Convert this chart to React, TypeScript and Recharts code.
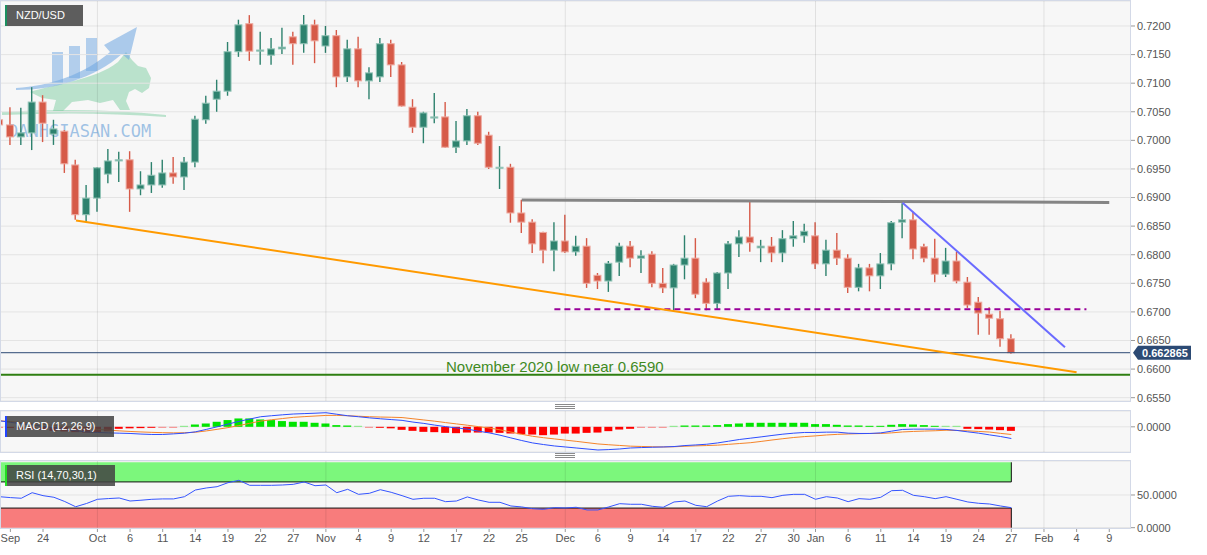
import React from 'react';
import { ComposedChart, Bar, Line, XAxis, YAxis, CartesianGrid, ReferenceLine, ReferenceArea, Cell } from 'recharts';

// daily NZD/USD candles, 20 Sep 2021 .. 27 Jan 2022 (index = trading day)
const openP = [
  0.7036, 0.7027, 0.7006, 0.7013, 0.7067, 0.7011, 0.7016, 0.6957, 0.6870, 0.6899,
  0.6941, 0.6964, 0.6966, 0.6915, 0.6922, 0.6922, 0.6943, 0.6936, 0.6962, 0.7036,
  0.7072, 0.7086, 0.7155, 0.7204, 0.7156, 0.7149, 0.7160, 0.7181, 0.7169, 0.7202,
  0.7165, 0.7183, 0.7111, 0.7160, 0.7104, 0.7111, 0.7169, 0.7132, 0.7058, 0.7023,
  0.7039, 0.7041, 0.6988, 0.6999, 0.7043, 0.7009, 0.6952, 0.6953, 0.6873, 0.6857,
  0.6839, 0.6808, 0.6824, 0.6805, 0.6815, 0.6764, 0.6754, 0.6787, 0.6815, 0.6794,
  0.6801, 0.6750, 0.6742, 0.6782, 0.6794, 0.6752, 0.6715, 0.6768, 0.6819, 0.6831,
  0.6812, 0.6815, 0.6803, 0.6828, 0.6833, 0.6833, 0.6784, 0.6808, 0.6794, 0.6743,
  0.6777, 0.6763, 0.6784, 0.6857, 0.6861, 0.6814, 0.6794, 0.6766, 0.6789, 0.6752,
  0.6717, 0.6696, 0.6688, 0.6653,
];
const highP = [
  0.7048, 0.7058, 0.7057, 0.7093, 0.7079, 0.7036, 0.7018, 0.6966, 0.6922, 0.6953,
  0.6985, 0.6980, 0.6981, 0.6946, 0.6962, 0.6966, 0.6971, 0.6971, 0.7043, 0.7078,
  0.7106, 0.7172, 0.7211, 0.7219, 0.7190, 0.7179, 0.7197, 0.7190, 0.7219, 0.7211,
  0.7200, 0.7193, 0.7176, 0.7181, 0.7128, 0.7179, 0.7176, 0.7137, 0.7072, 0.7050,
  0.7083, 0.7067, 0.7034, 0.7055, 0.7050, 0.7015, 0.6990, 0.6959, 0.6896, 0.6862,
  0.6840, 0.6857, 0.6870, 0.6833, 0.6829, 0.6768, 0.6789, 0.6821, 0.6824, 0.6808,
  0.6806, 0.6777, 0.6784, 0.6834, 0.6829, 0.6759, 0.6770, 0.6824, 0.6843, 0.6892,
  0.6826, 0.6831, 0.6843, 0.6859, 0.6854, 0.6857, 0.6826, 0.6838, 0.6801, 0.6784,
  0.6784, 0.6803, 0.6859, 0.6890, 0.6875, 0.6819, 0.6828, 0.6812, 0.6805, 0.6761,
  0.6726, 0.6708, 0.6702, 0.6661,
];
const lowP = [
  0.7006, 0.6992, 0.6992, 0.6983, 0.6997, 0.6992, 0.6943, 0.6861, 0.6857, 0.6875,
  0.6925, 0.6927, 0.6875, 0.6904, 0.6908, 0.6917, 0.6924, 0.6913, 0.6953, 0.7029,
  0.7050, 0.7078, 0.7146, 0.7139, 0.7132, 0.7132, 0.7151, 0.7132, 0.7153, 0.7135,
  0.7153, 0.7093, 0.7102, 0.7093, 0.7072, 0.7102, 0.7111, 0.7059, 0.7013, 0.6995,
  0.7030, 0.6987, 0.6978, 0.6992, 0.6992, 0.6950, 0.6915, 0.6856, 0.6838, 0.6803,
  0.6785, 0.6771, 0.6803, 0.6798, 0.6742, 0.6740, 0.6735, 0.6763, 0.6778, 0.6768,
  0.6743, 0.6733, 0.6702, 0.6757, 0.6724, 0.6703, 0.6705, 0.6740, 0.6796, 0.6805,
  0.6787, 0.6787, 0.6787, 0.6814, 0.6821, 0.6775, 0.6763, 0.6782, 0.6733, 0.6736,
  0.6736, 0.6740, 0.6773, 0.6829, 0.6792, 0.6787, 0.6752, 0.6761, 0.6750, 0.6707,
  0.6660, 0.6660, 0.6639, 0.6627,
];
const closeP = [
  0.7027, 0.7006, 0.7013, 0.7067, 0.7030, 0.7020, 0.6959, 0.6870, 0.6899, 0.6952,
  0.6964, 0.6966, 0.6915, 0.6922, 0.6939, 0.6943, 0.6936, 0.6962, 0.7037, 0.7065,
  0.7086, 0.7155, 0.7202, 0.7156, 0.7158, 0.7160, 0.7163, 0.7169, 0.7202, 0.7174,
  0.7183, 0.7111, 0.7160, 0.7104, 0.7118, 0.7169, 0.7132, 0.7060, 0.7023, 0.7048,
  0.7041, 0.6988, 0.6999, 0.7043, 0.6995, 0.6953, 0.6953, 0.6873, 0.6857, 0.6819,
  0.6808, 0.6824, 0.6805, 0.6815, 0.6750, 0.6754, 0.6785, 0.6815, 0.6794, 0.6798,
  0.6750, 0.6742, 0.6782, 0.6794, 0.6731, 0.6715, 0.6768, 0.6819, 0.6831, 0.6821,
  0.6815, 0.6803, 0.6828, 0.6833, 0.6841, 0.6784, 0.6808, 0.6794, 0.6743, 0.6777,
  0.6763, 0.6784, 0.6856, 0.6861, 0.6810, 0.6794, 0.6766, 0.6789, 0.6754, 0.6712,
  0.6698, 0.6689, 0.6653, 0.662865,
];

const macdLine = [
  0.0012, 0.0009, 0.0006, 0.0004, 0.0001, -0.0002, -0.0005, -0.0008, -0.001, -0.00112,
  -0.0012, -0.00126, -0.00132, -0.00144, -0.00152, -0.00152, -0.0014, -0.00126, -0.001, -0.00052,
  0, 0.00054, 0.00108, 0.00154, 0.002, 0.0022, 0.00238, 0.00254, 0.00262, 0.0027,
  0.0028, 0.0025, 0.0022, 0.002, 0.00178, 0.0016, 0.00144, 0.00128, 0.00094, 0.00068,
  0.00034, 0.00004, -0.00022, -0.00046, -0.00086, -0.0012, -0.00166, -0.0022, -0.00272, -0.0032,
  -0.00352, -0.0038, -0.004, -0.0042, -0.0044, -0.0046, -0.00452, -0.0044, -0.0042, -0.00412,
  -0.00406, -0.004, -0.00392, -0.00372, -0.0036, -0.00346, -0.0032, -0.00286, -0.00252, -0.00226,
  -0.002, -0.00172, -0.00146, -0.00126, -0.00112, -0.00112, -0.00106, -0.00106, -0.00126, -0.00132,
  -0.00132, -0.0012, -0.00086, -0.00052, -0.00046, -0.00046, -0.00046, -0.00052, -0.00072, -0.001,
  -0.00126, -0.0016, -0.00192, -0.00232,
];
const signalLine = [
  0.0012, 0.00104, 0.00086, 0.00068, 0.00048, 0.00028, 0.00008, -0.00012, -0.00032, -0.0005,
  -0.00066, -0.0008, -0.00092, -0.00102, -0.0011, -0.00116, -0.0012, -0.00118, -0.00108, -0.00082,
  -0.0005, -0.00016, 0.00024, 0.0007, 0.00114, 0.0014, 0.00164, 0.00188, 0.00202, 0.00214,
  0.00226, 0.00228, 0.0022, 0.0021, 0.002, 0.00194, 0.0019, 0.00184, 0.0016, 0.00136,
  0.00112, 0.00084, 0.00058, 0.00032, 0.00004, -0.00022, -0.0006, -0.00104, -0.00148, -0.00188,
  -0.00216, -0.0024, -0.00264, -0.00288, -0.00314, -0.0034, -0.00356, -0.0037, -0.00384, -0.0039,
  -0.00396, -0.004, -0.00396, -0.00386, -0.00378, -0.00372, -0.00364, -0.00348, -0.00332, -0.00316,
  -0.0029, -0.00262, -0.00236, -0.00212, -0.00194, -0.0018, -0.00162, -0.0015, -0.00142, -0.00136,
  -0.00132, -0.00132, -0.0012, -0.00102, -0.00092, -0.00084, -0.00078, -0.00068, -0.00072, -0.0008,
  -0.00092, -0.00104, -0.0013, -0.00152,
];
const macdHist = [
  -0.0001, -0.00024, -0.0004, -0.00052, -0.00064, -0.0008, -0.00092, -0.00106, -0.00114, -0.00106,
  -0.0009, -0.0004, -0.0003, -0.00026, -0.0002, -0.00014, -0.00006, 0.00006, 0.00046, 0.00066,
  0.001, 0.00134, 0.00166, 0.00166, 0.00146, 0.00134, 0.00114, 0.001, 0.001, 0.0008,
  0.00066, 0.00034, 0.00026, 0.0001, -0.0001, -0.0002, -0.0003, -0.0006, -0.0008, -0.001,
  -0.00106, -0.0012, -0.00126, -0.00114, -0.00114, -0.00114, -0.0012, -0.00134, -0.00146, -0.00154,
  -0.00166, -0.00154, -0.00134, -0.00134, -0.0012, -0.00114, -0.00086, -0.00054, -0.0004, -0.00014,
  -0.00006, -0.00002, 0.00006, 0.00026, 0.00026, 0.00026, 0.00034, 0.00054, 0.00066, 0.0008,
  0.0008, 0.0008, 0.0008, 0.0008, 0.0008, 0.00054, 0.00054, 0.0004, 0.00026, 0.00026,
  0.0002, 0.0002, 0.0004, 0.00054, 0.00046, 0.00034, 0.0002, 0.00014, 0.00002, -0.0004,
  -0.00046, -0.00054, -0.00066, -0.0008,
];
const rsiLine = [
  47.4, 46, 45, 53.5, 49, 46.5, 40, 32, 37, 43.4,
  44.5, 45.4, 40.8, 42, 43.4, 44, 44, 47.4, 57.6, 60.7,
  62.7, 68.8, 72.5, 64.8, 64.8, 64.8, 65.3, 66.3, 69.9, 64.2,
  65.3, 53.5, 58.7, 51, 52.6, 58.1, 54.1, 49, 43.4, 45,
  45, 39.8, 40.8, 47, 42.4, 38.8, 38.8, 33.2, 31.7, 29,
  28.1, 30.6, 30.1, 31.2, 27.1, 27.1, 31.7, 36.7, 35.8, 35.8,
  32.7, 31.2, 39.3, 40.8, 34.2, 32.1, 40.8, 48, 49, 48,
  48, 45.9, 49.5, 51, 51, 43.4, 47.4, 45.4, 39.8, 44.4,
  43.4, 46.5, 56.6, 57.2, 49.5, 47.4, 44.4, 47.4, 43.4, 39.3,
  37.3, 36.2, 33.2, 30.6,
];

const tickIdx = [1, 4, 9, 12, 15, 18, 21, 24, 27, 30, 33, 36, 39, 42, 45, 48, 52, 55, 58, 61, 64, 67, 70, 73, 75, 78, 81, 84, 87, 90, 93, 96, 99, 102];
const tickLabels = ['Sep', '24', 'Oct', '6', '11', '14', '19', '22', '27', 'Nov', '4', '9', '12', '17', '22', '25', 'Dec', '6', '9', '14', '17', '22', '27', '30', 'Jan', '6', '11', '14', '19', '24', '27', 'Feb', '4', '9'];
const monthIdx = [9, 30, 52, 75, 96];
const priceTicks = [0.655, 0.66, 0.665, 0.67, 0.675, 0.68, 0.685, 0.69, 0.695, 0.7, 0.705, 0.71, 0.715, 0.72];
const lastPrice = 0.662865;
const nov2020Low = 0.659;

// trend lines drawn on the chart (index, price)
const resistance = [{ x: 48, y: 0.68955 }, { x: 102, y: 0.68915 }];
const supportLine = [{ x: 7.03, y: 0.686 }, { x: 99, y: 0.65944 }];
const fallingLine = [{ x: 83, y: 0.6891 }, { x: 97.93, y: 0.66383 }];
const decLowLine = [{ x: 51, y: 0.67046 }, { x: 99.9, y: 0.67046 }];

const W = 1207;
const AXIS_W = 77;
const X_DOMAIN: [number, number] = [0.046, 103.906];
const UP = '#2e826e';
const DOWN = '#d65a48';
const GRID = '#e4e4e4';
const MONTH_GRID = 'rgba(0,0,0,0.09)';
const tickText = { fontSize: 11, fill: '#555' };

const rows = openP.map((o, i) => ({
  i,
  open: o,
  high: highP[i],
  low: lowP[i],
  close: closeP[i],
  macd: macdLine[i],
  signal: signalLine[i],
  hist: macdHist[i],
  rsi: rsiLine[i],
}));

function Candle(props: any) {
  const { x, y, width, height, payload } = props;
  if (height == null || !payload) return null;
  const { open, close, high, low } = payload;
  const up = close >= open;
  const cx = x + width / 2;
  const k = height / (high - low);
  const top = y + (high - Math.max(open, close)) * k;
  const bot = y + (high - Math.min(open, close)) * k;
  const col = up ? UP : DOWN;
  return (
    <g>
      <line x1={cx} x2={cx} y1={y} y2={y + height} stroke={col} strokeWidth={1.4} />
      <rect
        x={cx - 3.5}
        y={top}
        width={7}
        height={Math.max(bot - top, 1)}
        fill={col}
        stroke={up ? '#93c4b7' : '#eeaaa0'}
        strokeWidth={1}
      />
    </g>
  );
}

function PriceTag(props: any) {
  const { viewBox } = props;
  if (!viewBox) return null;
  const xr = viewBox.x + viewBox.width;
  const yc = viewBox.y;
  return (
    <g>
      <path
        d={`M${xr + 3},${yc} L${xr + 8},${yc - 7} L${xr + 61},${yc - 7} L${xr + 61},${yc + 7} L${xr + 8},${yc + 7} Z`}
        fill="#2c4a74"
      />
      <text x={xr + 35} y={yc + 4} textAnchor="middle" fill="#fff" fontSize={11} fontWeight="bold">
        {lastPrice.toFixed(6)}
      </text>
    </g>
  );
}

function LowNote(props: any) {
  const { viewBox } = props;
  if (!viewBox) return null;
  return (
    <text x={viewBox.x + viewBox.width * 0.491} y={viewBox.y - 3} textAnchor="middle" fill="#3f8a1e" fontSize={15}>
      November 2020 low near 0.6590
    </text>
  );
}

const monthLines = () =>
  monthIdx.map((m) => <ReferenceLine key={'m' + m} x={m} stroke={MONTH_GRID} strokeWidth={1} />);

function Tag({ left, top, width, accent, text }: { left: number; top: number; width: number; accent: string; text: string }) {
  return (
    <div
      style={{
        position: 'absolute',
        left,
        top,
        width,
        height: 21,
        background: 'rgba(68,68,68,0.86)',
        borderLeft: `2px solid ${accent}`,
        color: '#fff',
        fontSize: 11,
        lineHeight: '21px',
        paddingLeft: 9,
        boxSizing: 'border-box',
        whiteSpace: 'nowrap',
      }}
    >
      {text}
    </div>
  );
}

function Grip({ top }: { top: number }) {
  return (
    <svg style={{ position: 'absolute', left: 555, top }} width={20} height={6}>
      {[0.5, 2.5, 4.5].map((y) => (
        <line key={y} x1={0} x2={20} y1={y} y2={y} stroke="#8a8a8a" strokeWidth={1} />
      ))}
    </svg>
  );
}

function Frame({ top, height }: { top: number; height: number }) {
  return (
    <div
      style={{
        position: 'absolute',
        left: 0,
        top,
        width: 1131,
        height,
        border: '1px solid #d3d9e7',
        boxSizing: 'border-box',
        pointerEvents: 'none',
      }}
    />
  );
}

function Watermark() {
  return (
    <svg style={{ position: 'absolute', left: 0, top: 0 }} width={200} height={150}>
      <path d="M2 112 Q 85 107 166 115 L 166 117 Q 85 111 2 115 Z" fill="rgba(110,200,150,0.45)" />
      <path
        d="M30 92 C 55 84, 95 80, 118 62 L 126 52 L 132 60 L 138 66 L 146 68 L 151 78 L 149 88 L 142 93 L 135 89 L 129 92 L 126 101 L 130 110 L 120 110 L 113 100 L 100 103 L 88 100 L 72 102 L 63 111 L 53 111 L 56 100 L 42 98 Z"
        fill="rgba(110,200,150,0.45)"
      />
      <rect x={52} y={52} width={11} height={31} fill="rgba(110,165,225,0.5)" />
      <rect x={69} y={46} width={11} height={32} fill="rgba(110,165,225,0.5)" />
      <rect x={86} y={38} width={11} height={33} fill="rgba(110,165,225,0.5)" />
      <path
        d="M16 88 C 50 86, 85 74, 110 52 L 104 45 L 137 27 L 129 60 L 122 54 C 95 78, 55 90, 16 90 Z"
        fill="rgba(110,165,225,0.55)"
      />
      <text x={8} y={137} fontFamily="'DejaVu Sans Mono', monospace" fontSize={17} fill="rgba(120,170,220,0.7)">
        DANHGIASAN.COM
      </text>
    </svg>
  );
}

export default function App() {
  return (
    <div
      style={{
        position: 'relative',
        width: W,
        height: 555,
        background: '#fff',
        fontFamily: "'Liberation Sans', Arial, sans-serif",
        overflow: 'hidden',
      }}
    >
      <style>{'body{margin:0}'}</style>

      {/* plot backgrounds */}
      <div style={{ position: 'absolute', left: 0, top: 0, width: 1130, height: 401, background: '#f7f7f7' }} />
      <div style={{ position: 'absolute', left: 0, top: 411, width: 1130, height: 41, background: '#f7f7f7' }} />
      <div style={{ position: 'absolute', left: 0, top: 461, width: 1130, height: 67, background: '#f7f7f7' }} />

      <Watermark />

      {/* price panel */}
      <div style={{ position: 'absolute', left: 0, top: 0 }}>
        <ComposedChart width={W} height={410} data={rows} margin={{ top: 1, right: 0, bottom: 9, left: 0 }}>
          <CartesianGrid vertical={false} stroke={GRID} />
          {monthLines()}
          <XAxis dataKey="i" type="number" domain={X_DOMAIN} allowDataOverflow hide />
          <YAxis
            orientation="right"
            width={AXIS_W}
            domain={[0.65442, 0.72437]}
            allowDataOverflow
            ticks={priceTicks}
            interval={0}
            tickFormatter={(v: number) => v.toFixed(4)}
            tick={tickText}
            tickLine={{ stroke: '#999' }}
            tickSize={5}
            axisLine={false}
          />
          <Bar
            dataKey={(d: any) => [d.low, d.high]}
            barSize={8}
            shape={(p: any) => <Candle {...p} />}
            isAnimationActive={false}
          />
          <ReferenceLine y={lastPrice} stroke="#2c4a74" strokeWidth={1} label={<PriceTag />} />
          <ReferenceLine y={nov2020Low} stroke="#2f7f12" strokeWidth={2} label={<LowNote />} />
          <ReferenceLine segment={resistance} stroke="#858585" strokeWidth={3} />
          <ReferenceLine segment={decLowLine} stroke="#990099" strokeWidth={2} strokeDasharray="6 4" />
          <ReferenceLine segment={supportLine} stroke="#ff9a00" strokeWidth={2} />
          <ReferenceLine segment={fallingLine} stroke="#6b6bff" strokeWidth={2} />
        </ComposedChart>
      </div>

      {/* MACD panel */}
      <div style={{ position: 'absolute', left: 0, top: 411 }}>
        <ComposedChart width={W} height={41} data={rows} margin={{ top: 0, right: 0, bottom: 0, left: 0 }}>
          <CartesianGrid vertical={false} stroke={GRID} />
          {monthLines()}
          <XAxis dataKey="i" type="number" domain={X_DOMAIN} allowDataOverflow hide />
          <YAxis
            orientation="right"
            width={AXIS_W}
            domain={[-0.005, 0.00314]}
            allowDataOverflow
            ticks={[0]}
            interval={0}
            tickFormatter={(v: number) => v.toFixed(4)}
            tick={tickText}
            tickLine={{ stroke: '#999' }}
            tickSize={5}
            axisLine={false}
          />
          <Bar dataKey="hist" barSize={8} minPointSize={1} isAnimationActive={false}>
            {rows.map((r) => (
              <Cell
                key={r.i}
                fill={r.hist >= 0 ? '#00e400' : '#ff0000'}
                fillOpacity={Math.abs(r.hist) < 0.0002 ? 0.45 : 1}
              />
            ))}
          </Bar>
          <Line dataKey="signal" type="linear" stroke="#f5842a" strokeWidth={1} dot={false} isAnimationActive={false} />
          <Line dataKey="macd" type="linear" stroke="#2d4dff" strokeWidth={1} dot={false} isAnimationActive={false} />
        </ComposedChart>
      </div>

      {/* RSI panel */}
      <div style={{ position: 'absolute', left: 0, top: 461 }}>
        <ComposedChart width={W} height={94} data={rows} margin={{ top: 0, right: 0, bottom: 0, left: 0 }}>
          <CartesianGrid vertical={false} stroke={GRID} />
          <XAxis
            dataKey="i"
            type="number"
            domain={X_DOMAIN}
            allowDataOverflow
            ticks={tickIdx}
            interval={0}
            tickFormatter={(v: number) => tickLabels[tickIdx.indexOf(v)] ?? ''}
            tick={tickText}
            tickLine={{ stroke: '#999' }}
            tickSize={4}
            axisLine={false}
            height={27}
          />
          <YAxis
            orientation="right"
            width={AXIS_W}
            domain={[-0.5, 102]}
            allowDataOverflow
            ticks={[0, 50]}
            interval={0}
            tickFormatter={(v: number) => v.toFixed(4)}
            tick={tickText}
            tickLine={{ stroke: '#999' }}
            tickSize={5}
            axisLine={false}
          />
          <ReferenceArea x1={X_DOMAIN[0]} x2={93} y1={70} y2={100} fill="#7cf77c" fillOpacity={1} stroke="none" />
          <ReferenceArea x1={X_DOMAIN[0]} x2={93} y1={0} y2={30} fill="#f87c7c" fillOpacity={1} stroke="none" />
          {monthLines()}
          <ReferenceLine segment={[{ x: X_DOMAIN[0], y: 70 }, { x: 93, y: 70 }]} stroke="#111" />
          <ReferenceLine segment={[{ x: 93, y: 70 }, { x: 93, y: 100 }]} stroke="#111" />
          <ReferenceLine segment={[{ x: X_DOMAIN[0], y: 30 }, { x: 93, y: 30 }]} stroke="#111" />
          <ReferenceLine segment={[{ x: 93, y: 0 }, { x: 93, y: 30 }]} stroke="#111" />
          <Line dataKey="rsi" type="linear" stroke="#3555ff" strokeWidth={1} dot={false} isAnimationActive={false} />
        </ComposedChart>
      </div>

      <Frame top={0} height={402} />
      <Frame top={410} height={43} />
      <Frame top={460} height={69} />
      <Grip top={404} />
      <Grip top={453} />

      <Tag left={5} top={5} width={78} accent="#1b8f5f" text="NZD/USD" />
      <Tag left={5} top={416} width={109} accent="#2244ff" text="MACD (12,26,9)" />
      <Tag left={5} top={465} width={110} accent="#22dd22" text="RSI (14,70,30,1)" />
    </div>
  );
}
